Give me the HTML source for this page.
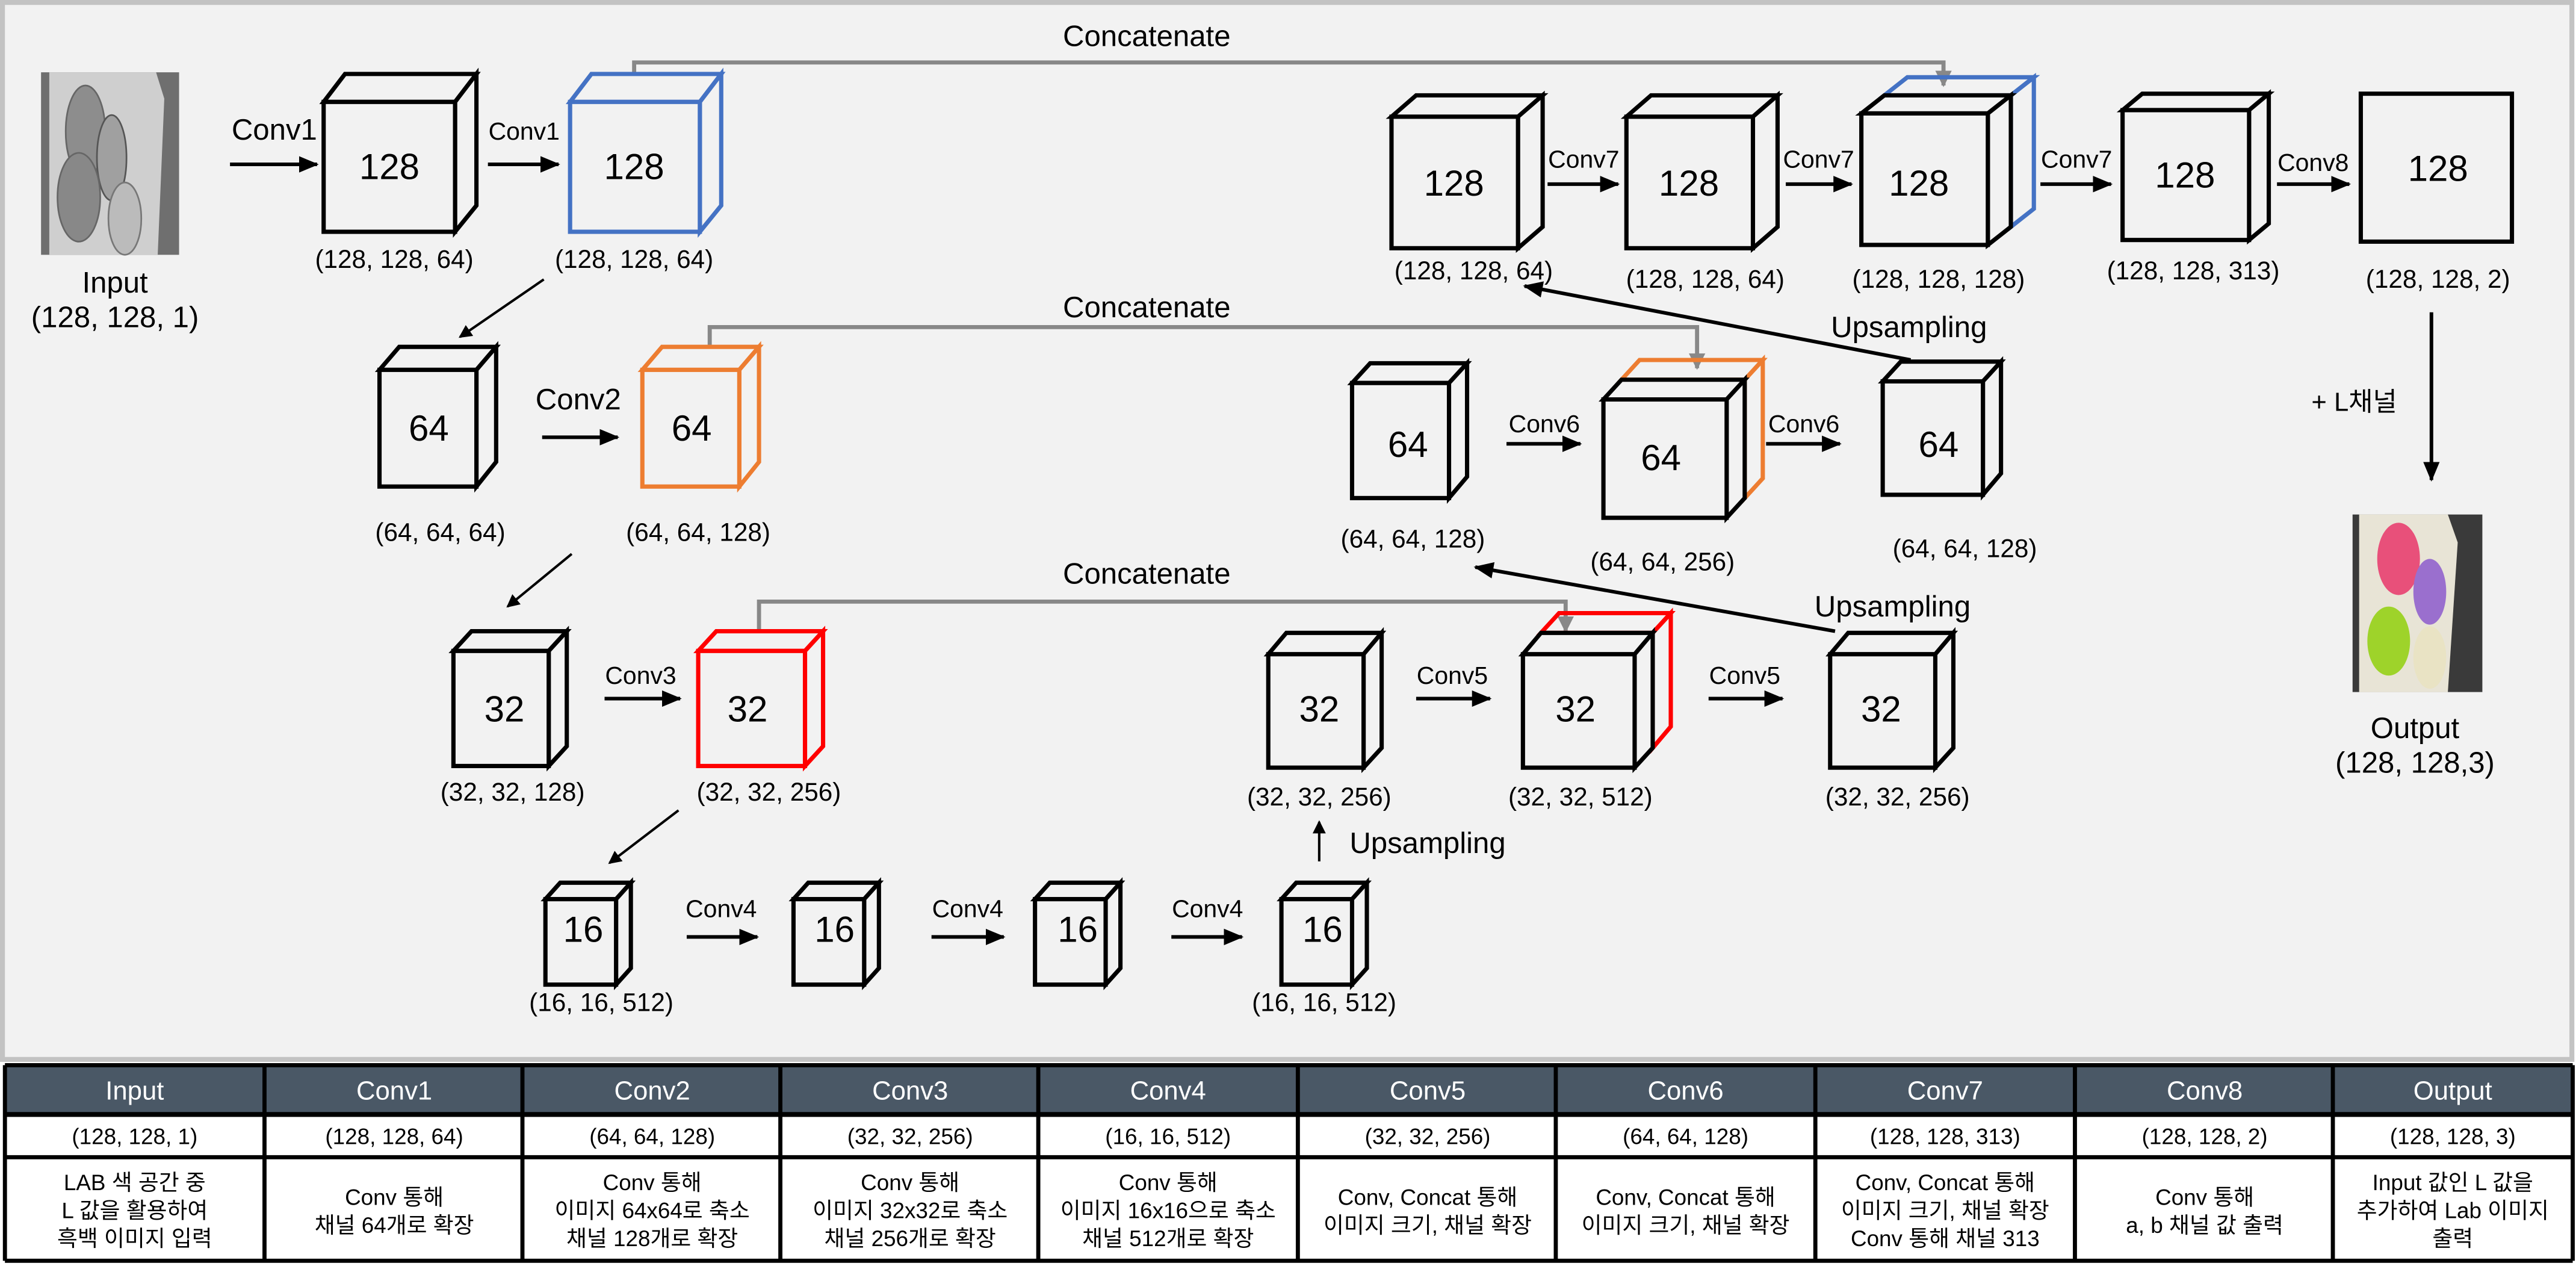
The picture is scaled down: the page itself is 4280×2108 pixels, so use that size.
<!DOCTYPE html>
<html><head><meta charset="utf-8"><style>
html,body{margin:0;padding:0;background:#fff;}
svg{display:block;}
text{font-family:"Liberation Sans","Noto Sans CJK KR",sans-serif;fill:#000;}
</style></head><body>
<svg width="4280" height="2108" viewBox="0 0 1568 772" preserveAspectRatio="none" xmlns="http://www.w3.org/2000/svg">
<defs>
<marker id="ah" markerWidth="8" markerHeight="8" refX="7" refY="4" orient="auto" markerUnits="userSpaceOnUse"><path d="M0,0 L8,4 L0,8 z" fill="#000"/></marker>
<marker id="ag" markerWidth="10" markerHeight="10" refX="9" refY="5" orient="auto" markerUnits="userSpaceOnUse"><path d="M0,0 L10,5 L0,10 z" fill="#888"/></marker>
<marker id="ab" markerWidth="12" markerHeight="12" refX="11" refY="6" orient="auto" markerUnits="userSpaceOnUse"><path d="M0,1 L12,6 L0,11 z" fill="#000"/></marker>
</defs>
<rect x="1.5" y="1.5" width="1564" height="643" fill="#f2f2f2" stroke="#c3c3c3" stroke-width="3"/>

<g>
<rect x="25" y="44" width="84" height="111" fill="#9a9a9a"/>
<rect x="25" y="44" width="84" height="111" fill="#444" opacity="0.5"/>
<polygon points="30,44 95,44 100,60 96,155 30,155" fill="#cfcfcf"/>
<ellipse cx="52" cy="80" rx="12" ry="28" fill="#8d8d8d" stroke="#666"/>
<ellipse cx="68" cy="96" rx="9" ry="26" fill="#a0a0a0" stroke="#555"/>
<ellipse cx="48" cy="120" rx="13" ry="27" fill="#888" stroke="#666"/>
<ellipse cx="76" cy="133" rx="10" ry="22" fill="#bbb" stroke="#777"/>
</g>
<g>
<rect x="1432" y="313" width="79" height="108" fill="#3a3a3a"/>
<polygon points="1436,313 1490,313 1496,330 1490,421 1436,421" fill="#e8e4d6"/>
<ellipse cx="1460" cy="340" rx="13" ry="22" fill="#e8507a"/>
<ellipse cx="1479" cy="360" rx="10" ry="20" fill="#9a6fce"/>
<ellipse cx="1454" cy="390" rx="13" ry="21" fill="#9ed32a"/>
<ellipse cx="1479" cy="400" rx="10" ry="19" fill="#e9e3c4"/>
</g>

<g font-size="18" text-anchor="middle">
<text x="70" y="178">Input</text>
<text x="70" y="199">(128, 128, 1)</text>
<text x="1470" y="449">Output</text>
<text x="1470" y="470">(128, 128,3)</text>
</g>

<g stroke="#888" stroke-width="2.5" fill="none">
<polyline points="386,52 386,38 1183,38 1183,52" marker-end="url(#ag)"/>
<polyline points="432,210 432,199 1033,199 1033,224" marker-end="url(#ag)"/>
<polyline points="462,387 462,366 953,366 953,384" marker-end="url(#ag)"/>
</g>
<g font-size="18" text-anchor="middle">
<text x="698" y="28">Concatenate</text>
<text x="698" y="193">Concatenate</text>
<text x="698" y="355">Concatenate</text>
</g>

<g stroke-width="2.6" stroke-linejoin="miter" fill="#f2f2f2">
<g stroke="#000"><polygon points="197,62 210,45 290,45 277,62"/><polygon points="277,62 290,45 290,125 277,141"/><rect x="197" y="62" width="80" height="79"/></g>
<g stroke="#4472c4"><polygon points="347,62 360,45 439,45 426,62"/><polygon points="426,62 439,45 439,125 426,141"/><rect x="347" y="62" width="79" height="79"/></g>
<g stroke="#000"><polygon points="847,71 862,58 939,58 924,71"/><polygon points="924,71 939,58 939,138 924,151"/><rect x="847" y="71" width="77" height="80"/></g>
<g stroke="#000"><polygon points="990,71 1005,58 1082,58 1067,71"/><polygon points="1067,71 1082,58 1082,138 1067,151"/><rect x="990" y="71" width="77" height="80"/></g>
<g stroke="#4472c4" fill="none"><polygon points="1147,58 1161,47 1238,47 1224,58"/><polygon points="1224,58 1238,47 1238,127 1224,138"/></g>
<g stroke="#000"><polygon points="1133,69 1147,58 1224,58 1210,69"/><polygon points="1210,69 1224,58 1224,138 1210,149"/><rect x="1133" y="69" width="77" height="80"/></g>
<g stroke="#000"><polygon points="1292,67 1304,57 1381,57 1369,67"/><polygon points="1369,67 1381,57 1381,136 1369,146"/><rect x="1292" y="67" width="77" height="79"/></g>
<rect x="1437" y="57" width="92" height="90" stroke="#000"/>

<g stroke="#000"><polygon points="231,225 243,211 302,211 290,225"/><polygon points="290,225 302,211 302,281 290,296"/><rect x="231" y="225" width="59" height="71"/></g>
<g stroke="#ed7d31"><polygon points="391,225 403,211 462,211 450,225"/><polygon points="450,225 462,211 462,281 450,296"/><rect x="391" y="225" width="59" height="71"/></g>
<g stroke="#000"><polygon points="823,233 834,221 893,221 882,233"/><polygon points="882,233 893,221 893,290 882,303"/><rect x="823" y="233" width="59" height="70"/></g>
<g stroke="#ed7d31" fill="none"><polygon points="987,231 998,219 1073,219 1062,231"/><polygon points="1062,231 1073,219 1073,291 1062,303"/></g>
<g stroke="#000"><polygon points="976,243 987,231 1062,231 1051,243"/><polygon points="1051,243 1062,231 1062,303 1051,315"/><rect x="976" y="243" width="75" height="72"/></g>
<g stroke="#000"><polygon points="1146,232 1157,220 1218,220 1207,232"/><polygon points="1207,232 1218,220 1218,288 1207,301"/><rect x="1146" y="232" width="61" height="69"/></g>

<g stroke="#000"><polygon points="276,396 287,384 345,384 334,396"/><polygon points="334,396 345,384 345,454 334,466"/><rect x="276" y="396" width="58" height="70"/></g>
<g stroke="#ff0000"><polygon points="425,396 436,384 501,384 490,396"/><polygon points="490,396 501,384 501,454 490,466"/><rect x="425" y="396" width="65" height="70"/></g>
<g stroke="#000"><polygon points="772,398 783,385 841,385 830,398"/><polygon points="830,398 841,385 841,455 830,467"/><rect x="772" y="398" width="58" height="69"/></g>
<g stroke="#ff0000" fill="none"><polygon points="938,385 949,373 1017,373 1006,385"/><polygon points="1006,385 1017,373 1017,442 1006,455"/></g>
<g stroke="#000"><polygon points="927,398 938,385 1006,385 995,398"/><polygon points="995,398 1006,385 1006,455 995,467"/><rect x="927" y="398" width="68" height="69"/></g>
<g stroke="#000"><polygon points="1114,398 1125,385 1189,385 1178,398"/><polygon points="1178,398 1189,385 1189,455 1178,467"/><rect x="1114" y="398" width="64" height="69"/></g>

<g stroke="#000"><polygon points="332,547 341,537 384,537 375,547"/><polygon points="375,547 384,537 384,589 375,599"/><rect x="332" y="547" width="43" height="52"/></g>
<g stroke="#000"><polygon points="483,547 492,537 535,537 526,547"/><polygon points="526,547 535,537 535,589 526,599"/><rect x="483" y="547" width="43" height="52"/></g>
<g stroke="#000"><polygon points="630,547 639,537 682,537 673,547"/><polygon points="673,547 682,537 682,589 673,599"/><rect x="630" y="547" width="43" height="52"/></g>
<g stroke="#000"><polygon points="780,547 789,537 832,537 823,547"/><polygon points="823,547 832,537 832,589 823,599"/><rect x="780" y="547" width="43" height="52"/></g>
</g>

<g font-size="22" text-anchor="middle">
<text x="237" y="109">128</text><text x="386" y="109">128</text>
<text x="885" y="119">128</text><text x="1028" y="119">128</text><text x="1168" y="119">128</text><text x="1330" y="114">128</text><text x="1484" y="110">128</text>
<text x="261" y="268">64</text><text x="421" y="268">64</text><text x="857" y="278">64</text><text x="1011" y="286">64</text><text x="1180" y="278">64</text>
<text x="307" y="439">32</text><text x="455" y="439">32</text><text x="803" y="439">32</text><text x="959" y="439">32</text><text x="1145" y="439">32</text>
<text x="355" y="573">16</text><text x="508" y="573">16</text><text x="656" y="573">16</text><text x="805" y="573">16</text>
</g>

<g font-size="15.5" text-anchor="middle">
<text x="240" y="163">(128, 128, 64)</text><text x="386" y="163">(128, 128, 64)</text>
<text x="897" y="170">(128, 128, 64)</text><text x="1038" y="175">(128, 128, 64)</text><text x="1180" y="175">(128, 128, 128)</text><text x="1335" y="170">(128, 128, 313)</text><text x="1484" y="175">(128, 128, 2)</text>
<text x="268" y="329">(64, 64, 64)</text><text x="425" y="329">(64, 64, 128)</text><text x="860" y="333">(64, 64, 128)</text><text x="1012" y="347">(64, 64, 256)</text><text x="1196" y="339">(64, 64, 128)</text>
<text x="312" y="487">(32, 32, 128)</text><text x="468" y="487">(32, 32, 256)</text><text x="803" y="490">(32, 32, 256)</text><text x="962" y="490">(32, 32, 512)</text><text x="1155" y="490">(32, 32, 256)</text>
<text x="366" y="615">(16, 16, 512)</text><text x="806" y="615">(16, 16, 512)</text>
</g>

<g stroke="#000" stroke-width="2.2" fill="none" marker-end="url(#ab)">
<line x1="140" y1="100" x2="193" y2="100"/>
<line x1="297" y1="100" x2="340" y2="100"/>
<line x1="942" y1="112" x2="985" y2="112"/>
<line x1="1087" y1="112" x2="1127" y2="112"/>
<line x1="1242" y1="112" x2="1285" y2="112"/>
<line x1="1386" y1="112" x2="1430" y2="112"/>
<line x1="330" y1="266" x2="376" y2="266"/>
<line x1="917" y1="270" x2="962" y2="270"/>
<line x1="1075" y1="270" x2="1120" y2="270"/>
<line x1="368" y1="425" x2="414" y2="425"/>
<line x1="862" y1="425" x2="907" y2="425"/>
<line x1="1040" y1="425" x2="1085" y2="425"/>
<line x1="418" y1="570" x2="461" y2="570"/>
<line x1="567" y1="570" x2="611" y2="570"/>
<line x1="713" y1="570" x2="756" y2="570"/>
<line x1="1480" y1="190" x2="1480" y2="292"/>
</g>
<g stroke="#000" stroke-width="1.5" fill="none" marker-end="url(#ah)">
<line x1="331" y1="170" x2="280" y2="205"/>
<line x1="348" y1="337" x2="309" y2="369"/>
<line x1="413" y1="493" x2="371" y2="525"/>
<line x1="803" y1="524" x2="803" y2="500"/>
</g>
<g stroke="#000" stroke-width="2.2" fill="none" marker-end="url(#ab)">
<line x1="1163" y1="219" x2="928" y2="174"/>
<line x1="1117" y1="384" x2="898" y2="345"/>
</g>

<g text-anchor="middle">
<text x="167" y="85" font-size="18">Conv1</text>
<text x="319" y="85" font-size="15">Conv1</text>
<text x="964" y="102" font-size="15">Conv7</text>
<text x="1107" y="102" font-size="15">Conv7</text>
<text x="1264" y="102" font-size="15">Conv7</text>
<text x="1408" y="104" font-size="15">Conv8</text>
<text x="352" y="249" font-size="18">Conv2</text>
<text x="940" y="263" font-size="15">Conv6</text>
<text x="1098" y="263" font-size="15">Conv6</text>
<text x="390" y="416" font-size="15">Conv3</text>
<text x="884" y="416" font-size="15">Conv5</text>
<text x="1062" y="416" font-size="15">Conv5</text>
<text x="439" y="558" font-size="15">Conv4</text>
<text x="589" y="558" font-size="15">Conv4</text>
<text x="735" y="558" font-size="15">Conv4</text>
<text x="1162" y="205" font-size="18">Upsampling</text>
<text x="1152" y="375" font-size="18">Upsampling</text>
<text x="869" y="519" font-size="18">Upsampling</text>
<text x="1433" y="250" font-size="16">+ L채널</text>
</g>

<g>
<rect x="3" y="648" width="1563" height="29" fill="#4a5866"/>
<rect x="3" y="679" width="1563" height="88" fill="#fff"/>
<g stroke="#000" stroke-width="2.5">
<line x1="3" y1="648" x2="1566" y2="648"/>
<line x1="3" y1="678" x2="1566" y2="678" stroke-width="3"/>
<line x1="3" y1="704" x2="1566" y2="704"/>
<line x1="3" y1="767" x2="1566" y2="767"/>
<line x1="3" y1="648" x2="3" y2="767"/><line x1="1566" y1="648" x2="1566" y2="767"/>
<line x1="161" y1="648" x2="161" y2="767"/><line x1="318" y1="648" x2="318" y2="767"/><line x1="475" y1="648" x2="475" y2="767"/><line x1="632" y1="648" x2="632" y2="767"/><line x1="790" y1="648" x2="790" y2="767"/><line x1="947" y1="648" x2="947" y2="767"/><line x1="1105" y1="648" x2="1105" y2="767"/><line x1="1263" y1="648" x2="1263" y2="767"/><line x1="1420" y1="648" x2="1420" y2="767"/>
</g>
<g font-size="16" text-anchor="middle">
<text x="82" y="669" style="fill:#fff">Input</text><text x="240" y="669" style="fill:#fff">Conv1</text><text x="397" y="669" style="fill:#fff">Conv2</text><text x="554" y="669" style="fill:#fff">Conv3</text><text x="711" y="669" style="fill:#fff">Conv4</text><text x="869" y="669" style="fill:#fff">Conv5</text><text x="1026" y="669" style="fill:#fff">Conv6</text><text x="1184" y="669" style="fill:#fff">Conv7</text><text x="1342" y="669" style="fill:#fff">Conv8</text><text x="1493" y="669" style="fill:#fff">Output</text>
</g>
<g font-size="13.5" text-anchor="middle">
<text x="82" y="696">(128, 128, 1)</text><text x="240" y="696">(128, 128, 64)</text><text x="397" y="696">(64, 64, 128)</text><text x="554" y="696">(32, 32, 256)</text><text x="711" y="696">(16, 16, 512)</text><text x="869" y="696">(32, 32, 256)</text><text x="1026" y="696">(64, 64, 128)</text><text x="1184" y="696">(128, 128, 313)</text><text x="1342" y="696">(128, 128, 2)</text><text x="1493" y="696">(128, 128, 3)</text>
</g>
<g font-size="13.5" text-anchor="middle">
<text x="82" y="724">LAB 색 공간 중</text><text x="82" y="741">L 값을 활용하여</text><text x="82" y="758">흑백 이미지 입력</text>
<text x="240" y="733">Conv 통해</text><text x="240" y="750">채널 64개로 확장</text>
<text x="397" y="724">Conv 통해</text><text x="397" y="741">이미지 64x64로 축소</text><text x="397" y="758">채널 128개로 확장</text>
<text x="554" y="724">Conv 통해</text><text x="554" y="741">이미지 32x32로 축소</text><text x="554" y="758">채널 256개로 확장</text>
<text x="711" y="724">Conv 통해</text><text x="711" y="741">이미지 16x16으로 축소</text><text x="711" y="758">채널 512개로 확장</text>
<text x="869" y="733">Conv, Concat 통해</text><text x="869" y="750">이미지 크기, 채널 확장</text>
<text x="1026" y="733">Conv, Concat 통해</text><text x="1026" y="750">이미지 크기, 채널 확장</text>
<text x="1184" y="724">Conv, Concat 통해</text><text x="1184" y="741">이미지 크기, 채널 확장</text><text x="1184" y="758">Conv 통해 채널 313</text>
<text x="1342" y="733">Conv 통해</text><text x="1342" y="750">a, b 채널 값 출력</text>
<text x="1493" y="724">Input 값인 L 값을</text><text x="1493" y="741">추가하여 Lab 이미지</text><text x="1493" y="758">출력</text>
</g>
</g>
</svg>
</body></html>
